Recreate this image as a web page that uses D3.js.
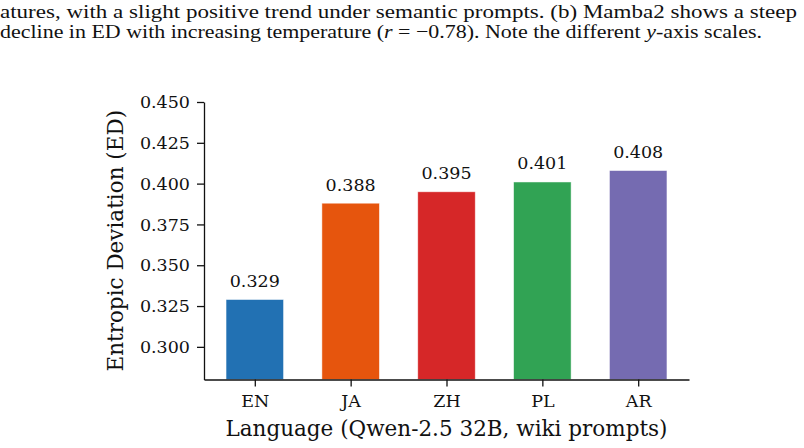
<!DOCTYPE html>
<head>
    <title>Entropic Deviation par langue</title>
    <script src="https://cdn.jsdelivr.net/npm/d3@7"></script>
    <style>
        body { margin: 0; background: #fff; }
        svg text { fill: #111; }
    </style>
</head>
<body>
<div id="container"></div>

<script>

// Données
const langues = ["EN", "JA", "ZH", "PL", "AR"];
const valeurs = [0.329, 0.388, 0.395, 0.401, 0.408];
const couleurs = ["#2271b3", "#e6550d", "#d62728", "#31a354", "#756bb1"];
const yTicks = [0.300, 0.325, 0.350, 0.375, 0.400, 0.425, 0.450];

const data = langues.map((l, i) => ({ langue: l, ed: valeurs[i], couleur: couleurs[i] }));

// Dimensions
const W = 804, H = 448;
const axe = { left: 204, right: 689, top: 102, bottom: 379.5 };

const svg = d3.select("#container")
              .append("svg")
              .attr("width", W)
              .attr("height", H);

// Légende de la figure (texte du papier, coupé en haut)
const caption = svg.append("g")
                   .style("font-family", "'Liberation Serif', serif")
                   .style("font-size", "19.5px");
const l1 = caption.append("text").attr("x", 0).attr("y", 17.5)
                  .attr("textLength", 797).attr("lengthAdjust", "spacingAndGlyphs");
l1.append("tspan").text("atures, with a slight positive trend under semantic prompts.  (b) Mamba2 shows a steep");
const l2 = caption.append("text").attr("x", 0).attr("y", 37.5)
                  .attr("textLength", 762).attr("lengthAdjust", "spacingAndGlyphs");
l2.append("tspan").text("decline in ED with increasing temperature (");
l2.append("tspan").style("font-style", "italic").text("r");
l2.append("tspan").text(" = \u22120.78). Note the different ");
l2.append("tspan").style("font-style", "italic").text("y");
l2.append("tspan").text("-axis scales.");

// Échelles : matplotlib, barres de largeur 0.6, marge 5 %
const x = d3.scaleLinear()
            .domain([-0.53, 4.53])
            .range([axe.left, axe.right]);
const bw = x(0.3) - x(-0.3);

const y = d3.scaleLinear()
            .domain([0.28, 0.45])
            .range([axe.bottom, axe.top]);

const police = "'DejaVu Serif', serif";
const tailleTick = "17.5px";
const tailleLabel = "21.5px";

// Barres
svg.selectAll(".bar")
   .data(data)
   .enter().append("rect")
   .attr("class", "bar")
   .attr("x", (d, i) => x(i) - bw / 2)
   .attr("width", bw)
   .attr("y", d => y(d.ed))
   .attr("height", d => axe.bottom - y(d.ed))
   .attr("fill", d => d.couleur)
   .attr("stroke", "#fff")
   .attr("stroke-opacity", 0.6)
   .attr("stroke-width", 0.8);

// Valeurs au-dessus des barres
svg.selectAll(".val")
   .data(data)
   .enter().append("text")
   .attr("class", "val")
   .attr("x", (d, i) => x(i))
   .attr("y", d => y(d.ed) - 12.5)
   .attr("text-anchor", "middle")
   .style("font-family", police)
   .style("font-size", tailleTick)
   .text(d => d.ed.toFixed(3));

// Axe Y
const gy = svg.append("g")
              .attr("transform", `translate(${axe.left},0)`)
              .call(d3.axisLeft(y).tickValues(yTicks).tickFormat(d3.format(".3f"))
                      .tickSize(7).tickPadding(7).tickSizeOuter(0));
gy.select(".domain").attr("stroke", "#111").attr("stroke-width", 1.3);
gy.selectAll(".tick line").attr("stroke", "#111").attr("stroke-width", 1.3);
gy.selectAll(".tick text").style("font-family", police).style("font-size", tailleTick).attr("fill", "#111");

// Axe X (catégories)
const gx = svg.append("g")
              .attr("transform", `translate(0,${axe.bottom})`)
              .call(d3.axisBottom(x).tickValues(d3.range(langues.length))
                      .tickFormat(i => langues[i])
                      .tickSize(7).tickPadding(8).tickSizeOuter(0));
gx.select(".domain").attr("stroke", "#111").attr("stroke-width", 1.3);
gx.selectAll(".tick line").attr("stroke", "#111").attr("stroke-width", 1.3);
gx.selectAll(".tick text").style("font-family", police).style("font-size", tailleTick).attr("fill", "#111");

// Titres des axes
svg.append("text")
   .attr("x", (axe.left + axe.right) / 2)
   .attr("y", 436)
   .attr("text-anchor", "middle")
   .style("font-family", police)
   .style("font-size", tailleLabel)
   .text("Language (Qwen-2.5 32B, wiki prompts)");

svg.append("text")
   .attr("transform", `translate(123,${(axe.top + axe.bottom) / 2}) rotate(-90)`)
   .attr("text-anchor", "middle")
   .style("font-family", police)
   .style("font-size", tailleLabel)
   .text("Entropic Deviation (ED)");

</script>
</body>
